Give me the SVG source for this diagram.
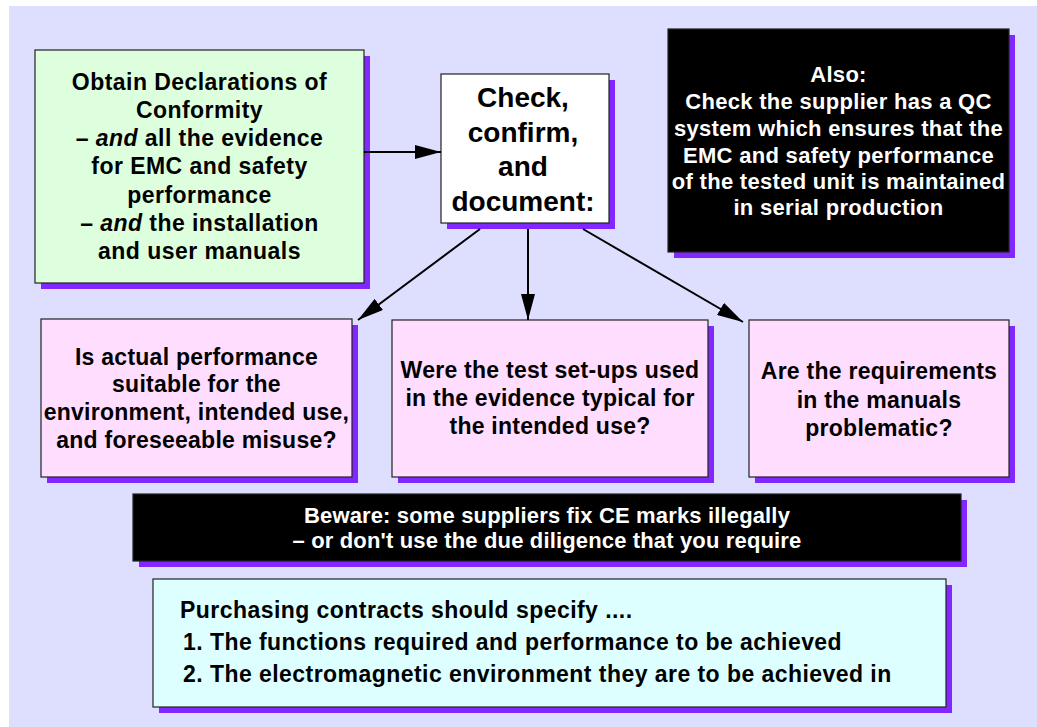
<svg xmlns="http://www.w3.org/2000/svg" width="1037" height="727" viewBox="0 0 1037 727">
  <defs>
    <marker id="arrow" markerUnits="userSpaceOnUse" markerWidth="26" markerHeight="14" refX="26" refY="7" orient="auto" viewBox="0 0 26 14">
      <path d="M0,0 L26,7 L0,14 Z" fill="#000"/>
    </marker>
  </defs>
  <style>
    .shadow { fill: #8028FF; }
    .box { stroke: #222; stroke-width: 1.2; }
    .green { fill: #DDFFDD; }
    .white { fill: #FFFFFF; }
    .black { fill: #000000; }
    .pink { fill: #FFDDFF; }
    .cyan { fill: #DDFFFF; }
    text { font-family: "Liberation Sans", Arial, sans-serif; font-weight: bold; fill: #000; }
    .c { text-anchor: middle; }
    .inv { fill: #FFFFFF; }
    .conn { stroke: #000; stroke-width: 2; fill: none; marker-end: url(#arrow); }
  </style>

  <!-- page background -->
  <rect x="9" y="6" width="1028" height="721" fill="#DEDEFE"/>

  <!-- source documents -->
  <g id="node-obtain">
    <rect class="shadow" x="41" y="56" width="329" height="233"/>
    <rect class="box green" x="35" y="50" width="329" height="233"/>
    <g style="font-size:23px; letter-spacing:0.45px">
      <text class="c" x="199.5" y="90">Obtain Declarations of</text>
      <text class="c" x="199.5" y="118">Conformity</text>
      <text class="c" x="199.5" y="146">– <tspan font-style="italic">and</tspan> all the evidence</text>
      <text class="c" x="199.5" y="174">for EMC and safety</text>
      <text class="c" x="199.5" y="203">performance</text>
      <text class="c" x="199.5" y="231">– <tspan font-style="italic">and</tspan> the installation</text>
      <text class="c" x="199.5" y="259">and user manuals</text>
    </g>
  </g>

  <!-- central task -->
  <g id="node-check">
    <rect class="shadow" x="447" y="80" width="168" height="149"/>
    <rect class="box white" x="441" y="74" width="168" height="149"/>
    <g style="font-size:28px">
      <text class="c" x="523" y="107">Check,</text>
      <text class="c" x="523" y="142">confirm,</text>
      <text class="c" x="523" y="176">and</text>
      <text class="c" x="523" y="211">document:</text>
    </g>
  </g>

  <!-- QC note -->
  <g id="node-also">
    <rect class="shadow" x="674" y="35" width="341" height="223"/>
    <rect class="box black" x="668" y="29" width="341" height="223"/>
    <g style="font-size:22px; letter-spacing:0.3px">
      <text class="c inv" x="838.5" y="82">Also:</text>
      <text class="c inv" x="838.5" y="109">Check the supplier has a QC</text>
      <text class="c inv" x="838.5" y="136">system which ensures that the</text>
      <text class="c inv" x="838.5" y="163">EMC and safety performance</text>
      <text class="c inv" x="838.5" y="189">of the tested unit is maintained</text>
      <text class="c inv" x="838.5" y="215">in serial production</text>
    </g>
  </g>

  <!-- questions -->
  <g id="node-performance">
    <rect class="shadow" x="47" y="325" width="311" height="158"/>
    <rect class="box pink" x="41" y="319" width="311" height="158"/>
    <g style="font-size:23px; letter-spacing:0.25px">
      <text class="c" x="196.5" y="365">Is actual performance</text>
      <text class="c" x="196.5" y="392">suitable for the</text>
      <text class="c" x="196.5" y="420">environment, intended use,</text>
      <text class="c" x="196.5" y="448">and foreseeable misuse?</text>
    </g>
  </g>

  <g id="node-setups">
    <rect class="shadow" x="398" y="326" width="316" height="157"/>
    <rect class="box pink" x="392" y="320" width="316" height="157"/>
    <g style="font-size:23px; letter-spacing:0.25px">
      <text class="c" x="550" y="378">Were the test set-ups used</text>
      <text class="c" x="550" y="406">in the evidence typical for</text>
      <text class="c" x="550" y="434">the intended use?</text>
    </g>
  </g>

  <g id="node-manuals">
    <rect class="shadow" x="755" y="326" width="260" height="157"/>
    <rect class="box pink" x="749" y="320" width="260" height="157"/>
    <g style="font-size:23px; letter-spacing:0.25px">
      <text class="c" x="879" y="379">Are the requirements</text>
      <text class="c" x="879" y="408">in the manuals</text>
      <text class="c" x="879" y="436">problematic?</text>
    </g>
  </g>

  <!-- warning -->
  <g id="node-beware">
    <rect class="shadow" x="139" y="500" width="828" height="67"/>
    <rect class="box black" x="133" y="494" width="828" height="67"/>
    <g style="font-size:22px; letter-spacing:0.15px">
      <text class="c inv" x="547" y="523">Beware: some suppliers fix CE marks illegally</text>
      <text class="c inv" x="547" y="548">– or don't use the due diligence that you require</text>
    </g>
  </g>

  <!-- contract requirements -->
  <g id="node-contracts">
    <rect class="shadow" x="159" y="585" width="793" height="128"/>
    <rect class="box cyan" x="153" y="579" width="793" height="128"/>
    <g style="font-size:23px; letter-spacing:0.45px">
      <text x="180" y="618">Purchasing contracts should specify ....</text>
      <text x="183" y="650">1. The functions required and performance to be achieved</text>
      <text x="183" y="682">2. The electromagnetic environment they are to be achieved in</text>
    </g>
  </g>

  <!-- connectors -->
  <g id="connectors">
    <line class="conn" x1="364" y1="152" x2="441" y2="152"/>
    <line class="conn" x1="480" y1="229" x2="358" y2="320"/>
    <line class="conn" x1="528" y1="229" x2="528" y2="320"/>
    <line class="conn" x1="583" y1="229" x2="743" y2="322"/>
  </g>
</svg>
